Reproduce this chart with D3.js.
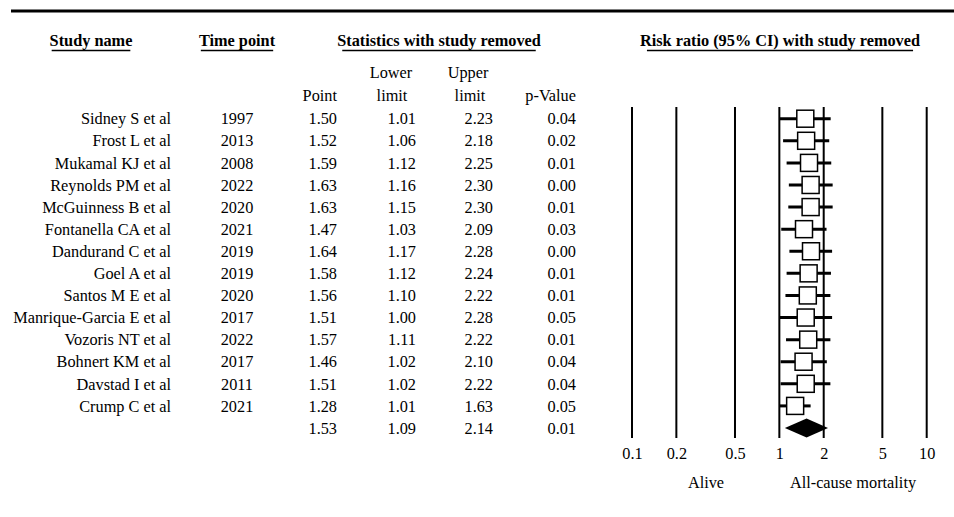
<!DOCTYPE html>
<html>
<head>
<meta charset="utf-8">
<script src="https://cdn.jsdelivr.net/npm/d3@7"></script>
<style>
  html, body { margin: 0; padding: 0; background: #fff; }
  svg { display: block; font-family: "Liberation Serif", "Times New Roman", serif; }
</style>
</head>
<body>
<svg id="chart" width="954" height="517"></svg>
<script>
const studies = ["Sidney S et al","Frost L et al","Mukamal KJ et al","Reynolds PM et al","McGuinness B et al","Fontanella CA et al","Dandurand C et al","Goel A et al","Santos M E et al","Manrique-Garcia E et al","Vozoris NT et al","Bohnert KM et al","Davstad I et al","Crump C et al"];
const years = ["1997","2013","2008","2022","2020","2021","2019","2019","2020","2017","2022","2017","2011","2021"];
const points = [1.50,1.52,1.59,1.63,1.63,1.47,1.64,1.58,1.56,1.51,1.57,1.46,1.51,1.28];
const lowers = [1.01,1.06,1.12,1.16,1.15,1.03,1.17,1.12,1.10,1.00,1.11,1.02,1.02,1.01];
const uppers = [2.23,2.18,2.25,2.30,2.30,2.09,2.28,2.24,2.22,2.28,2.22,2.10,2.22,1.63];
const pvalues = ["0.04","0.02","0.01","0.00","0.01","0.03","0.00","0.01","0.01","0.05","0.01","0.04","0.04","0.05"];
const summary = {point: 1.53, lower: 1.09, upper: 2.14, p: "0.01"};
const tickValues = [0.1, 0.2, 0.5, 1, 2, 5, 10];
const tickLabels = ["0.1","0.2","0.5","1","2","5","10"];
const leftLabel = "Alive";
const rightLabel = "All-cause mortality";

const svg = d3.select("#chart");
const FS = 16.3;

// top rule
svg.append("line").attr("x1", 11).attr("x2", 954).attr("y1", 11).attr("y2", 11)
  .attr("stroke", "#000").attr("stroke-width", 3);

const x = d3.scaleLog().domain([0.1, 10]).range([632, 926.7]);
const nRows = studies.length + 1;
const y = d3.scalePoint().domain(d3.range(nRows)).range([118.7, 428]);

// headers
const headers = [
  {t: "Study name", x: 91},
  {t: "Time point", x: 237},
  {t: "Statistics with study removed", x: 439},
  {t: "Risk ratio (95% CI) with study removed", x: 780}
];
headers.forEach(h => {
  const t = svg.append("text").attr("x", h.x).attr("y", 46).attr("text-anchor", "middle")
    .attr("font-weight", "bold").attr("font-size", FS).text(h.t);
  const w = t.node().getComputedTextLength() * 0.95;
  svg.append("line").attr("x1", h.x - w / 2).attr("x2", h.x + w / 2).attr("y1", 50.5).attr("y2", 50.5)
    .attr("stroke", "#000").attr("stroke-width", 1.6);
});

// sub headers
const sub = svg.append("g").attr("font-size", FS);
sub.append("text").attr("x", 337).attr("y", 101).attr("text-anchor", "end").text("Point");
sub.append("text").attr("x", 391).attr("y", 78).attr("text-anchor", "middle").text("Lower");
sub.append("text").attr("x", 392).attr("y", 101).attr("text-anchor", "middle").text("limit");
sub.append("text").attr("x", 468).attr("y", 78).attr("text-anchor", "middle").text("Upper");
sub.append("text").attr("x", 470).attr("y", 101).attr("text-anchor", "middle").text("limit");
sub.append("text").attr("x", 576).attr("y", 101).attr("text-anchor", "end").text("p-Value");

// table rows
const fmt = d3.format(".2f");
const rows = studies.map((s, i) => ({name: s, year: years[i], pt: points[i], lo: lowers[i], hi: uppers[i], p: pvalues[i], i}));
const tg = svg.append("g").attr("font-size", FS);
const cols = [
  {key: d => d.name, x: 171, anchor: "end"},
  {key: d => d.year, x: 237, anchor: "middle"},
  {key: d => fmt(d.pt), x: 337, anchor: "end"},
  {key: d => fmt(d.lo), x: 416, anchor: "end"},
  {key: d => fmt(d.hi), x: 493, anchor: "end"},
  {key: d => d.p, x: 576, anchor: "end"}
];
cols.forEach(c => {
  tg.selectAll(null).data(rows).enter().append("text")
    .attr("x", c.x).attr("y", d => y(d.i)).attr("dy", "0.35em")
    .attr("text-anchor", c.anchor).text(c.key);
});
const sumRow = {pt: summary.point, lo: summary.lower, hi: summary.upper, p: summary.p, i: studies.length};
cols.slice(2).forEach(c => {
  tg.append("text").attr("x", c.x).attr("y", y(sumRow.i)).attr("dy", "0.35em")
    .attr("text-anchor", c.anchor).text(c.key(sumRow));
});

// grid lines
const pg = svg.append("g");
pg.selectAll(null).data(tickValues).enter().append("line")
  .attr("x1", d => x(d)).attr("x2", d => x(d)).attr("y1", 107).attr("y2", 438)
  .attr("stroke", "#000").attr("stroke-width", 2);

// whiskers
pg.selectAll(null).data(rows).enter().append("line")
  .attr("x1", d => x(d.lo)).attr("x2", d => x(d.hi))
  .attr("y1", d => y(d.i)).attr("y2", d => y(d.i))
  .attr("stroke", "#000").attr("stroke-width", 3);

// boxes
const bs = 17;
pg.selectAll(null).data(rows).enter().append("rect")
  .attr("x", d => x(d.pt) - bs / 2).attr("y", d => y(d.i) - bs / 2)
  .attr("width", bs).attr("height", bs)
  .attr("fill", "#fff").attr("stroke", "#000").attr("stroke-width", 1.5);

// diamond
const ys = y(sumRow.i), dh = 9.5;
pg.append("path")
  .attr("d", `M${x(sumRow.lo)},${ys}L${x(sumRow.pt)},${ys - dh}L${x(sumRow.hi)},${ys}L${x(sumRow.pt)},${ys + dh}Z`)
  .attr("fill", "#000");

// axis
const axis = d3.axisBottom(x).tickValues(tickValues).tickSize(0).tickPadding(0)
  .tickFormat((d, i) => tickLabels[i]);
const ag = svg.append("g").attr("transform", "translate(0,447)").call(axis);
ag.select(".domain").remove();
ag.selectAll("text").attr("font-family", "Liberation Serif").attr("font-size", FS).attr("fill", "#000");

svg.append("text").attr("x", 706).attr("y", 488).attr("text-anchor", "middle").attr("font-size", FS).text(leftLabel);
svg.append("text").attr("x", 853).attr("y", 488).attr("text-anchor", "middle").attr("font-size", FS).text(rightLabel);
</script>
</body>
</html>
